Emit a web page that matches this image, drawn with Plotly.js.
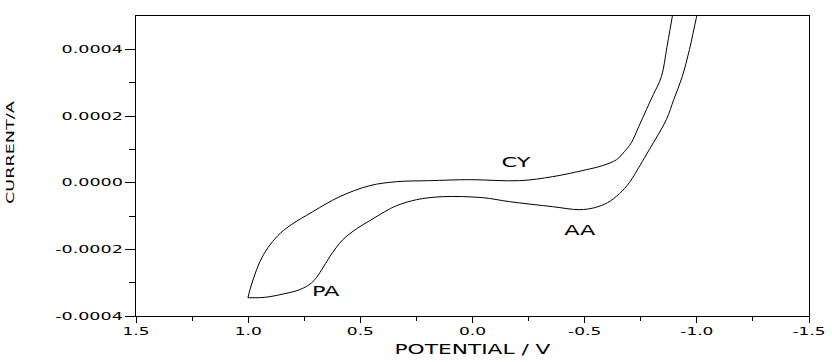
<!DOCTYPE html>
<html>
<head>
<meta charset="utf-8">
<script src="https://cdn.plot.ly/plotly-3.0.1.min.js"></script>
<style>
  html, body { margin: 0; padding: 0; background: #fff; }
  #chart { width: 832px; height: 362px; }
</style>
</head>
<body>
<div id="chart"></div>
<script>
// Cathodic sweep (upper branch), potential in V, current in A
const scan1Potential = [-0.904, -0.891, -0.867, -0.842, -0.806, -0.775, -0.741, -0.708, -0.677, -0.642, -0.579, -0.508, -0.357, -0.210, 0.013, 0.191, 0.338, 0.458, 0.592, 0.712, 0.814, 0.868, 0.912, 0.948, 0.975, 0.992, 1.001];
const scan1Current   = [0.00055, 0.00050, 0.000408, 0.000318, 0.000264, 0.000219, 0.000168, 0.00012, 0.000093, 0.000069, 0.000051, 0.000039, 0.000018, 0.000006, 0.000009, 0.000006, 0.000003, -0.000009, -0.000042, -0.000087, -0.000129, -0.000159, -0.000195, -0.000237, -0.000285, -0.000321, -0.000345];

// Return sweep (lower branch)
const scan2Potential = [1.001, 0.948, 0.903, 0.837, 0.783, 0.734, 0.703, 0.672, 0.636, 0.578, 0.516, 0.458, 0.391, 0.338, 0.249, 0.133, -0.045, -0.165, -0.357, -0.477, -0.544, -0.602, -0.655, -0.699, -0.746, -0.788, -0.864, -0.897, -0.935, -0.967, -0.998, -1.016];
const scan2Current   = [-0.000345, -0.000345, -0.000342, -0.000333, -0.000324, -0.000309, -0.000291, -0.000261, -0.000222, -0.000171, -0.000138, -0.000114, -0.000087, -0.000069, -0.000051, -0.000042, -0.000045, -0.000057, -0.000072, -0.000081, -0.000075, -0.00006, -0.000033, 0, 0.000051, 0.000099, 0.000189, 0.000249, 0.000318, 0.000399, 0.000495, 0.00055];

// Tick values and labels
const xTickVals = [1.5, 1.0, 0.5, 0.0, -0.5, -1.0, -1.5];
const xTickText = ["1.5", "1.0", "0.5", "0.0", "-0.5", "-1.0", "-1.5"];
const xMinorVals = [1.25, 0.75, 0.25, -0.25, -0.75, -1.25];
const yTickVals = [-0.0004, -0.0002, 0.0, 0.0002, 0.0004];
const yTickText = ["-0.0004", "-0.0002", "0.0000", "0.0002", "0.0004"];
const yMinorVals = [-0.0003, -0.0001, 0.0001, 0.0003];

const FONT = "DejaVu Sans, sans-serif";

const lineStyle = { color: "#000", width: 1, shape: "spline", smoothing: 1 };
const traces = [
  { x: scan1Potential, y: scan1Current, mode: "lines", line: lineStyle, hoverinfo: "skip", showlegend: false },
  { x: scan2Potential, y: scan2Current, mode: "lines", line: lineStyle, hoverinfo: "skip", showlegend: false }
];

const layout = {
  width: 832, height: 362,
  margin: { l: 136, r: 23, t: 16, b: 46, pad: 0 },
  paper_bgcolor: "#fff", plot_bgcolor: "#fff",
  font: { family: FONT, color: "#000", size: 10 },
  showlegend: false,
  xaxis: {
    range: [1.5, -1.5],
    tickmode: "array", tickvals: xTickVals, ticktext: xTickText,
    ticks: "outside", ticklen: 6, tickwidth: 1, tickcolor: "#000",
    minor: { tickvals: xMinorVals, ticks: "outside", ticklen: 4, tickwidth: 1, tickcolor: "#000", showgrid: false },
    showline: true, linecolor: "#000", linewidth: 1.2, mirror: true,
    showgrid: false, zeroline: false,
    tickfont: { family: FONT, size: 10, color: "#000" },
    title: { text: "POTENTIAL / V", font: { family: FONT, size: 14, color: "#000" }, standoff: 8 }
  },
  yaxis: {
    range: [-0.0004, 0.0005],
    tickmode: "array", tickvals: yTickVals, ticktext: yTickText,
    ticks: "outside", ticklen: 10, tickwidth: 1, tickcolor: "#000",
    minor: { tickvals: yMinorVals, ticks: "outside", ticklen: 6, tickwidth: 1, tickcolor: "#000", showgrid: false },
    showline: true, linecolor: "#000", linewidth: 1.2, mirror: true,
    showgrid: false, zeroline: false,
    tickfont: { family: FONT, size: 10, color: "#000" }
  },
  annotations: [
    { text: "CURRENT/A", xref: "paper", yref: "paper", x: -0.186, y: 0.547, textangle: -90,
      showarrow: false, xanchor: "center", yanchor: "middle", font: { family: FONT, size: 11, color: "#000" } },
    { text: "CY", x: -0.196, y: 0.000063, showarrow: false, xanchor: "center", yanchor: "middle",
      font: { family: FONT, size: 14, color: "#000" } },
    { text: "AA", x: -0.481, y: -0.000141, showarrow: false, xanchor: "center", yanchor: "middle",
      font: { family: FONT, size: 14, color: "#000" } },
    { text: "PA", x: 0.654, y: -0.000324, showarrow: false, xanchor: "center", yanchor: "middle",
      font: { family: FONT, size: 14, color: "#000" } }
  ]
};

function stretch(selector, factor) {
  document.querySelectorAll(selector).forEach(function (el) {
    try {
      const w = el.getComputedTextLength();
      if (w > 0) {
        el.setAttribute("textLength", (w * factor).toFixed(2));
        el.setAttribute("lengthAdjust", "spacingAndGlyphs");
      }
    } catch (e) {}
  });
}

Plotly.newPlot("chart", traces, layout, { staticPlot: true, displayModeBar: false }).then(function () {
  stretch("#chart .xtick text", 1.7);
  stretch("#chart .ytick text", 1.75);
  stretch("#chart .xtitle", 1.55);
  stretch("#chart .annotation-text", 1.6);
});
</script>
</body>
</html>
